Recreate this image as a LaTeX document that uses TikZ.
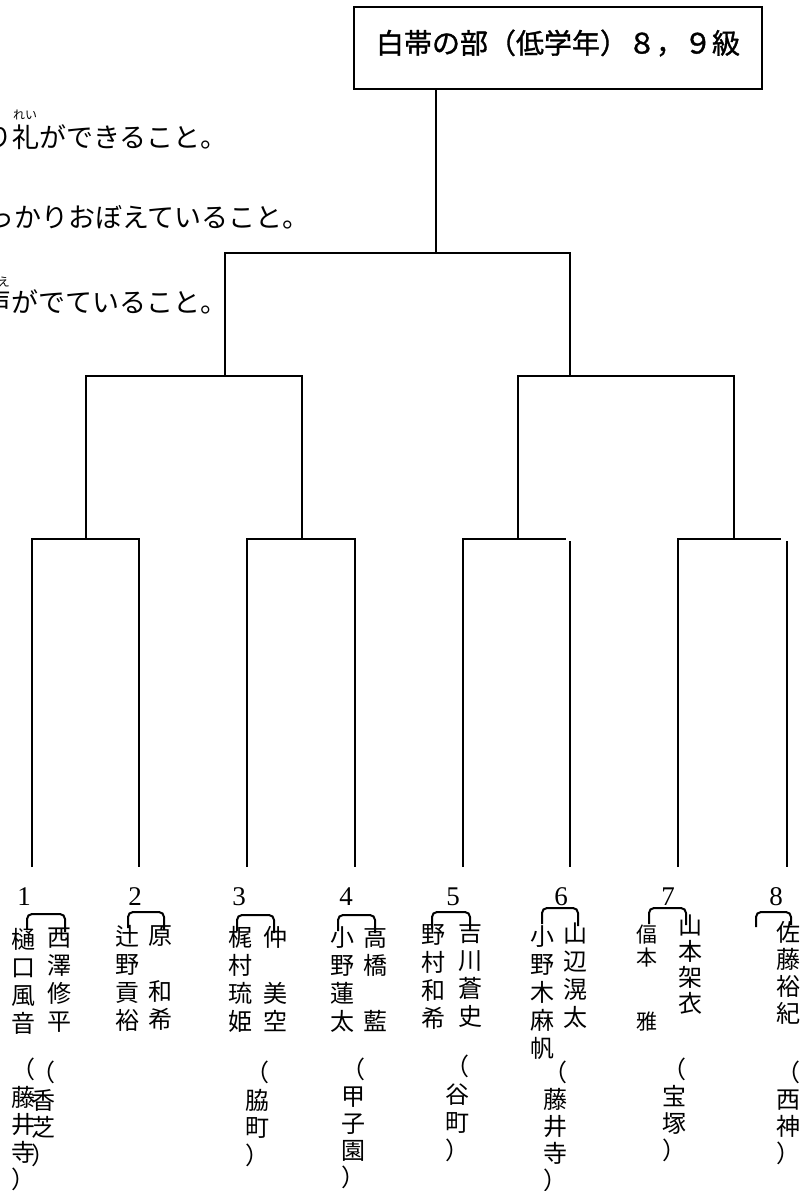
\documentclass[tikz,border=0pt]{standalone}
\usepackage{fontspec}
\newfontfamily\jpfont{Noto Sans CJK JP}
\newfontfamily\jptitle[FakeBold=1.2]{Noto Sans CJK JP}
\newfontfamily\numfont{Liberation Serif}
\usepackage{tikz}
\tikzstyle{line}=[
   line width=1.4pt
]
\tikzstyle{titlebox}=[
   rectangle,
   draw=black,
   line width=1.4pt,
   minimum width=408pt,
   minimum height=82pt,
   text height=25pt,
   text depth=14pt,
   font=\jptitle\fontsize{28}{32}\selectfont
]
\tikzstyle{rule}=[
   anchor=base east,
   inner sep=0pt,
   font=\jpfont\fontsize{27}{32}\selectfont
]
\tikzstyle{rubytext}=[
   inner sep=0pt,
   font=\jpfont\fontsize{12}{14}\selectfont
]
\tikzstyle{entry}=[
   inner sep=0pt,
   font=\numfont\fontsize{27}{30}\selectfont
]
\tikzstyle{namecol}=[
   anchor=north,
   align=center,
   inner sep=0pt,
   font=\jpfont\fontsize{24}{28}\selectfont
]
\tikzstyle{tie}=[
   line width=2pt,
   rounded corners=5pt
]

\begin{document}
\begin{tikzpicture}[
         x=1pt, y=-1pt
      ]
      \useasboundingbox (0,0) rectangle (806,1191);
      \clip (0,0) rectangle (806,1191);

      % heading and rules
      \node (title) [titlebox] at (558,48) {白帯の部（低学年）８，９級};

      \node (rule1) [rule] at (228,147) {り礼ができること。};
      \node (ruby1) [rubytext] at (25,115) {れい};
      \node (rule2) [rule] at (310,227) {っかりおぼえていること。};
      \node (rule3) [rule] at (228,312) {声がでていること。};
      \node (ruby3) [rubytext] at (4,282) {え};

      % bracket junctions
      \coordinate (root) at (436,253);
      \coordinate (s1) at (225,253);
      \coordinate (s2) at (570,253);
      \coordinate (q1) at (86,376);
      \coordinate (q2) at (302,376);
      \coordinate (q3) at (518,376);
      \coordinate (q4) at (734,376);

      \coordinate (t1) at (32,539);
      \coordinate (t2) at (139,539);
      \coordinate (t3) at (247,539);
      \coordinate (t4) at (355,539);
      \coordinate (t5) at (463,539);
      \coordinate (e5) at (566,539);
      \coordinate (t6) at (570,541);
      \coordinate (t7) at (678,539);
      \coordinate (e7) at (781,539);
      \coordinate (t8) at (787,541);

      \coordinate (b1) at (32,867);
      \coordinate (b2) at (139,867);
      \coordinate (b3) at (247,867);
      \coordinate (b4) at (355,867);
      \coordinate (b5) at (463,867);
      \coordinate (b6) at (570,867);
      \coordinate (b7) at (678,867);
      \coordinate (b8) at (787,867);

      % entries
      \node (1) [entry] at (24,897) {1};
      \node (2) [entry] at (135,897) {2};
      \node (3) [entry] at (239,897) {3};
      \node (4) [entry] at (346,897) {4};
      \node (5) [entry] at (453,897) {5};
      \node (6) [entry] at (561,897) {6};
      \node (7) [entry] at (668,897) {7};
      \node (8) [entry] at (776,897) {8};

      \node (n1l) [namecol] at (23,928) {樋\\口\\風\\音};
      \node (n1r) [namecol] at (59,928) {西\\澤\\修\\平};
      \node (n2l) [namecol] at (127,925) {辻\\野\\貢\\裕};
      \node (n2r) [namecol] at (160,925) {原\\　\\和\\希};
      \node (n3l) [namecol] at (240,926) {梶\\村\\琉\\姫};
      \node (n3r) [namecol] at (275,926) {仲\\　\\美\\空};
      \node (n4l) [namecol] at (342,926) {小\\野\\蓮\\太};
      \node (n4r) [namecol] at (375,926) {高\\橋\\　\\藍};
      \node (n5l) [namecol] at (433,924) {野\\村\\和\\希};
      \node (n5r) [namecol] at (470,921) {吉\\川\\蒼\\史};
      \node (n6l) [namecol] at (542,925) {小\\野\\木\\麻\\帆};
      \node (n6r) [namecol] at (575,923) {山\\辺\\滉\\太};
      \node (n7l) [namecol, font=\jpfont\fontsize{21}{23}\selectfont] at (647,925) {偪\\本\\[41pt]雅};
      \node (n7r) [namecol, font=\jpfont\fontsize{24}{26}\selectfont] at (690,915) {山\\本\\架\\衣};
      \node (n8r) [namecol, font=\jpfont\fontsize{24}{27}\selectfont] at (788,921) {佐\\藤\\裕\\紀};

      \node (a1) [namecol, font=\jpfont\fontsize{24}{27.5}\selectfont] at (24,1058) {（\\藤\\井\\寺\\）};
      \node (a2) [namecol, font=\jpfont\fontsize{24}{27.5}\selectfont] at (43,1061) {（\\香\\芝\\）};
      \node (a3) [namecol, font=\jpfont\fontsize{24}{27.5}\selectfont] at (257,1061) {（\\脇\\町\\）};
      \node (a4) [namecol, font=\jpfont\fontsize{24}{27}\selectfont] at (353,1058) {（\\甲\\子\\園\\）};
      \node (a5) [namecol, font=\jpfont\fontsize{24}{28}\selectfont] at (457,1055) {（\\谷\\町\\）};
      \node (a6) [namecol, font=\jpfont\fontsize{24}{27}\selectfont] at (555,1061) {（\\藤\\井\\寺\\）};
      \node (a7) [namecol, font=\jpfont\fontsize{24}{27}\selectfont] at (674,1058) {（\\宝\\塚\\）};
      \node (a8) [namecol, font=\jpfont\fontsize{24}{27}\selectfont] at (788,1061) {（\\西\\神\\）};

      % tree
      \draw[line] (title.south -| root) -- (root);
      \draw[line] (s1 |- q1) -- (s1) -- (s2) -- (s2 |- q3);
      \draw[line] (q1 |- t1) -- (q1) -- (q2) -- (q2 |- t3);
      \draw[line] (q3 |- t5) -- (q3) -- (q4) -- (q4 |- t7);

      \draw[line] (b1) -- (t1) -- (t2) -- (b2);
      \draw[line] (b3) -- (t3) -- (t4) -- (b4);
      \draw[line] (b5) -- (t5) -- (e5);
      \draw[line] (t6) -- (b6);
      \draw[line] (b7) -- (t7) -- (e7);
      \draw[line] (t8) -- (b8);

      % pair ties
      \draw[tie] ([xshift=4pt,yshift=-2pt]n1l.north) |- ([xshift=6pt,yshift=14pt]n1r.north) -- ([xshift=6pt,yshift=-4pt]n1r.north);
      \draw[tie] ([xshift=1pt,yshift=-3pt]n2l.north) |- ([xshift=4pt,yshift=13pt]n2r.north) -- ([xshift=4pt,yshift=-5pt]n2r.north);
      \draw[tie] ([xshift=-3pt,yshift=-5pt]n3l.north) |- ([xshift=-1pt,yshift=11pt]n3r.north) -- ([xshift=-1pt,yshift=-7pt]n3r.north);
      \draw[tie] ([xshift=-4pt,yshift=-5pt]n4l.north) |- ([yshift=11pt]n4r.north) -- ([yshift=-7pt]n4r.north);
      \draw[tie] ([xshift=-1pt,yshift=-4pt]n5l.north) |- ([yshift=9pt]n5r.north) -- ([yshift=-9pt]n5r.north);
      \draw[tie] ([yshift=1pt]n6l.north) |- ([xshift=3pt,yshift=15pt]n6r.north) -- ([xshift=3pt,yshift=-3pt]n6r.north);
      \draw[tie] ([xshift=2pt,yshift=1pt]n7l.north) |- ([xshift=-4pt,yshift=7pt]n7r.north) -- ([xshift=-4pt,yshift=-10pt]n7r.north);
      \draw[tie] ([xshift=-32pt,yshift=-6pt]n8r.north) |- ([xshift=3pt,yshift=9pt]n8r.north) -- ([xshift=3pt,yshift=-4pt]n8r.north);

   \end{tikzpicture}
\end{document}
